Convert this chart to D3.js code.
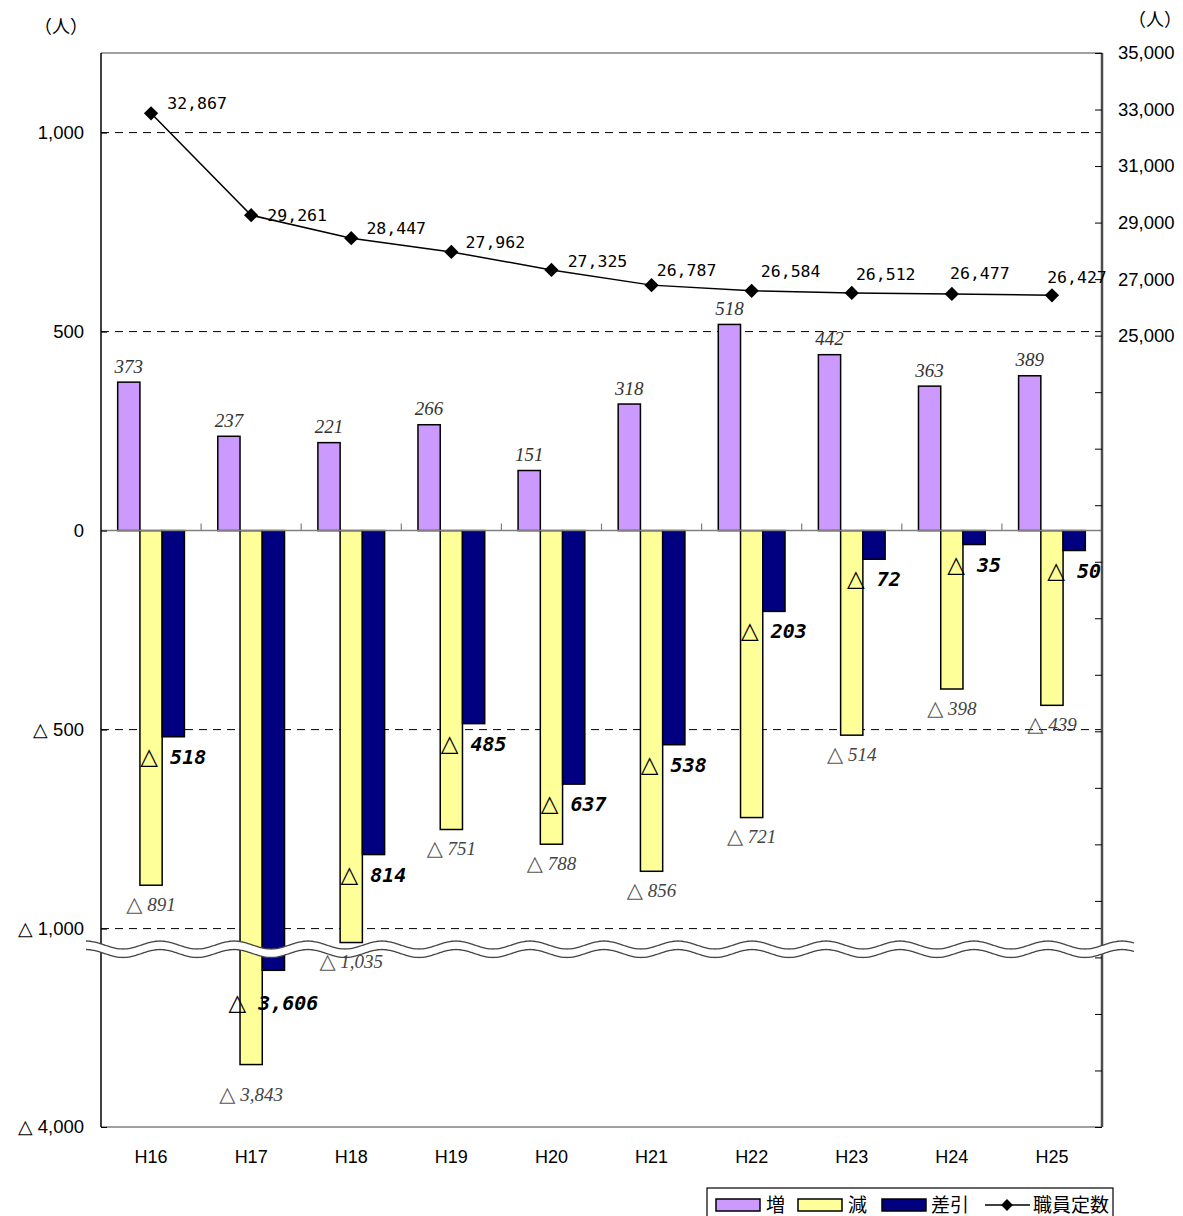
<!DOCTYPE html>
<html><head><meta charset="utf-8">
<script src="https://cdn.jsdelivr.net/npm/d3@7"></script>
<style>body{margin:0;background:#fff}</style>
</head><body><svg id="c" width="1183" height="1216"></svg>
<script>
const categories = ["H16","H17","H18","H19","H20","H21","H22","H23","H24","H25"];
const increase = [373,237,221,266,151,318,518,442,363,389];
const decrease = [-891,-3843,-1035,-751,-788,-856,-721,-514,-398,-439];
const balance  = [-518,-3606,-814,-485,-637,-538,-203,-72,-35,-50];
const staff    = [32867,29261,28447,27962,27325,26787,26584,26512,26477,26427];
const leftTicks = [1000,500,0,-500,-1000,-4000];
const leftTickLabels = ["1,000","500","0","△ 500","△ 1,000","△ 4,000"];
const rightTicks = [25000,27000,29000,31000,33000,35000];
const seriesNames = ["増","減","差引","職員定数"];

(function(){
const L=101, R=1102, T=53, B=1127;
const svg = d3.select("#c");
const colors = {inc:"#CC99FF", dec:"#FFFF99", diff:"#000080"};
const x = d3.scaleBand().domain(categories).range([L,R]);
const xs = d3.scaleBand().domain(["inc","dec","diff"]).range([0,x.bandwidth()]).paddingOuter(0.75);
const y = d3.scaleLinear().domain([1200,-1050,-3570,-4000]).range([T,948.5,956,B]);
const y2 = d3.scaleLinear().domain([-3000,35000]).range([B,T]);
const breakVal = -1050;
const lineLabelShift = [[46,-10],[46,0],[45,-10],[44,-10],[46,-9],[35,-15],[39,-20],[34,-19],[28,-21],[25,-18]];
const fmt = d3.format(",");

// grid lines
svg.append("g").selectAll("line").data(leftTicks.filter(v=>v!==0 && v!==-4000)).join("line")
  .attr("x1",L).attr("x2",R).attr("y1",d=>y(d)).attr("y2",d=>y(d))
  .attr("stroke","#000").attr("stroke-width",1).attr("stroke-dasharray","8,6");

// bars
const series = [["inc",increase],["dec",decrease],["diff",balance]];
series.forEach(([k,vals])=>{
  svg.append("g").selectAll("rect").data(vals).join("rect")
    .attr("x",(d,i)=>x(categories[i])+xs(k))
    .attr("width",xs.bandwidth())
    .attr("y",d=>Math.min(y(d),y(0)))
    .attr("height",d=>Math.abs(y(d)-y(0)))
    .attr("fill",colors[k]).attr("stroke","#000").attr("stroke-width",1.5);
});

// zero line + category ticks
svg.append("line").attr("x1",L).attr("x2",R).attr("y1",y(0)).attr("y2",y(0)).attr("stroke","#808080").attr("stroke-width",1.5);
svg.append("g").selectAll("line").data(categories.slice(1)).join("line")
  .attr("x1",d=>x(d)).attr("x2",d=>x(d)).attr("y1",y(0)).attr("y2",y(0)-7)
  .attr("stroke","#808080").attr("stroke-width",1.2);

// plot frame
svg.append("line").attr("x1",L).attr("x2",R).attr("y1",T).attr("y2",T).attr("stroke","#808080").attr("stroke-width",1.5);
svg.append("line").attr("x1",L).attr("x2",R).attr("y1",B).attr("y2",B).attr("stroke","#808080").attr("stroke-width",1.5);

// left axis
const ga = svg.append("g").attr("transform",`translate(${L},0)`)
  .call(d3.axisLeft(y).tickValues(leftTicks).tickSize(-6).tickFormat((d,i)=>leftTickLabels[i]).tickPadding(17));
ga.select(".domain").attr("stroke","#000").attr("stroke-width",1.5).attr("d",`M0,${T}V${B}`);
ga.selectAll(".tick line").attr("stroke","#000");
ga.selectAll("text").attr("font-family","Liberation Sans, Arial, sans-serif").attr("font-size",18.5).attr("fill","#000");

// right axis
const gr = svg.append("g").attr("transform",`translate(${R},0)`)
  .call(d3.axisRight(y2).tickValues(d3.range(-3000,35001,2000)).tickSize(-7).tickPadding(16)
    .tickFormat(d=>rightTicks.includes(d)?fmt(d):""));
gr.select(".domain").attr("stroke","#4d4d4d").attr("stroke-width",2.5).attr("d",`M0,${T}V${B}`);
gr.selectAll(".tick line").attr("stroke","#000");
gr.selectAll("text").attr("font-family","Liberation Sans, Arial, sans-serif").attr("font-size",18.5).attr("fill","#000");

// x labels
svg.append("g").selectAll("text").data(categories).join("text")
  .attr("x",d=>x(d)+x.bandwidth()/2).attr("y",1157).attr("dy","0.35em")
  .attr("text-anchor","middle").attr("font-family","Liberation Sans, Arial, sans-serif").attr("font-size",18)
  .text(d=>d);

// unit labels
svg.append("text").attr("x",61).attr("y",27).attr("dy","0.35em").attr("text-anchor","middle")
  .attr("font-family","Noto Sans CJK JP").attr("font-size",18).text("（人）");
svg.append("text").attr("x",1155).attr("y",20).attr("dy","0.35em").attr("text-anchor","middle")
  .attr("font-family","Noto Sans CJK JP").attr("font-size",18).text("（人）");

// break wave
const wx0=86, wx1=1134, per=74, amp=4, yb=945, gap=8.5;
const pts = d3.range(wx0,wx1+1,2);
const wave = (off)=>pts.map(px=>[px, yb+off-amp*Math.cos(2*Math.PI*(px-wx0)/per)]);
const wTop = wave(0), wBot = wave(gap);
svg.append("path").attr("d",d3.line()(wTop.concat(wBot.slice().reverse()))+"Z").attr("fill","#fff").attr("stroke","none");
svg.append("path").attr("d",d3.line().curve(d3.curveBasis)(wTop)).attr("fill","none").attr("stroke","#444").attr("stroke-width",1.3);
svg.append("path").attr("d",d3.line().curve(d3.curveBasis)(wBot)).attr("fill","none").attr("stroke","#444").attr("stroke-width",1.3);

// increase labels
svg.append("g").selectAll("text").data(increase).join("text")
  .attr("x",(d,i)=>x(categories[i])+xs("inc")+xs.bandwidth()/2).attr("y",d=>y(d)-16).attr("dy","0.35em")
  .attr("text-anchor","middle").attr("font-family","Liberation Serif, serif").attr("font-style","italic")
  .attr("font-size",19).attr("fill","#333").text(d=>fmt(d));

// decrease labels
const dl = svg.append("g").selectAll("text").data(decrease).join("text")
  .attr("x",(d,i)=>x(categories[i])+xs("dec")+xs.bandwidth()/2)
  .attr("y",d=>y(d)+(d<breakVal-1000?30:19)).attr("dy","0.35em")
  .attr("text-anchor","middle").attr("font-family","Liberation Serif, serif").attr("font-style","italic")
  .attr("font-size",19).attr("fill","#444");
dl.append("tspan").attr("font-style","normal").attr("font-family","DejaVu Sans").attr("font-size",21).attr("fill","#555").text("△");
dl.append("tspan").text(d=>"\u00a0"+fmt(-d));

// balance labels
const bl = svg.append("g").selectAll("text").data(balance).join("text")
  .attr("x",(d,i)=>x(categories[i])+xs("diff")+xs.bandwidth()/2)
  .attr("y",d=>y(d)+(d<breakVal-1000?33:20)).attr("dy","0.35em")
  .attr("text-anchor","middle").attr("font-family","DejaVu Sans Mono, monospace").attr("font-style","italic")
  .attr("font-weight","bold").attr("font-size",20).attr("fill","#000");
bl.append("tspan").attr("font-weight","normal").attr("font-style","normal").attr("font-family","DejaVu Sans").attr("font-size",23).text("△");
bl.append("tspan").text(d=>"\u00a0"+fmt(-d));

// staff line
const cx = i=>x(categories[i])+x.bandwidth()/2;
svg.append("path").datum(staff).attr("d",d3.line().x((d,i)=>cx(i)).y(d=>y2(d)))
  .attr("fill","none").attr("stroke","#000").attr("stroke-width",1.5);
svg.append("g").selectAll("path").data(staff).join("path")
  .attr("transform",(d,i)=>`translate(${cx(i)},${y2(d)})`)
  .attr("d",d3.symbol().type(d3.symbolDiamond2).size(130)).attr("fill","#000");
svg.append("g").selectAll("text").data(staff).join("text")
  .attr("x",(d,i)=>cx(i)+lineLabelShift[i][0]).attr("y",(d,i)=>y2(d)+lineLabelShift[i][1]).attr("dy","0.35em")
  .attr("text-anchor","middle").attr("font-family","DejaVu Sans Mono, monospace").attr("font-size",16.5)
  .text(d=>fmt(d));

// legend
const lg = svg.append("g");
lg.append("rect").attr("x",707).attr("y",1188).attr("width",406).attr("height",36).attr("fill","#fff").attr("stroke","#000").attr("stroke-width",1.2);
const lgItems = [{x:716,c:colors.inc},{x:798,c:colors.dec},{x:882,c:colors.diff}];
lg.selectAll("rect.sw").data(lgItems).join("rect").attr("class","sw")
  .attr("x",d=>d.x).attr("y",1199).attr("width",44).attr("height",12).attr("fill",d=>d.c).attr("stroke","#000").attr("stroke-width",1.5);
const lgTextX = [766,848,931,1033];
lg.selectAll("text").data(seriesNames).join("text")
  .attr("x",(d,i)=>lgTextX[i]).attr("y",1205).attr("dy","0.35em")
  .attr("font-family","Noto Sans CJK JP").attr("font-size",19).text(d=>d);
lg.append("line").attr("x1",985).attr("x2",1030).attr("y1",1205).attr("y2",1205).attr("stroke","#000").attr("stroke-width",1.5);
lg.append("path").attr("transform","translate(1007,1205)").attr("d",d3.symbol().type(d3.symbolDiamond2).size(90)).attr("fill","#000");
})();
</script></body></html>
